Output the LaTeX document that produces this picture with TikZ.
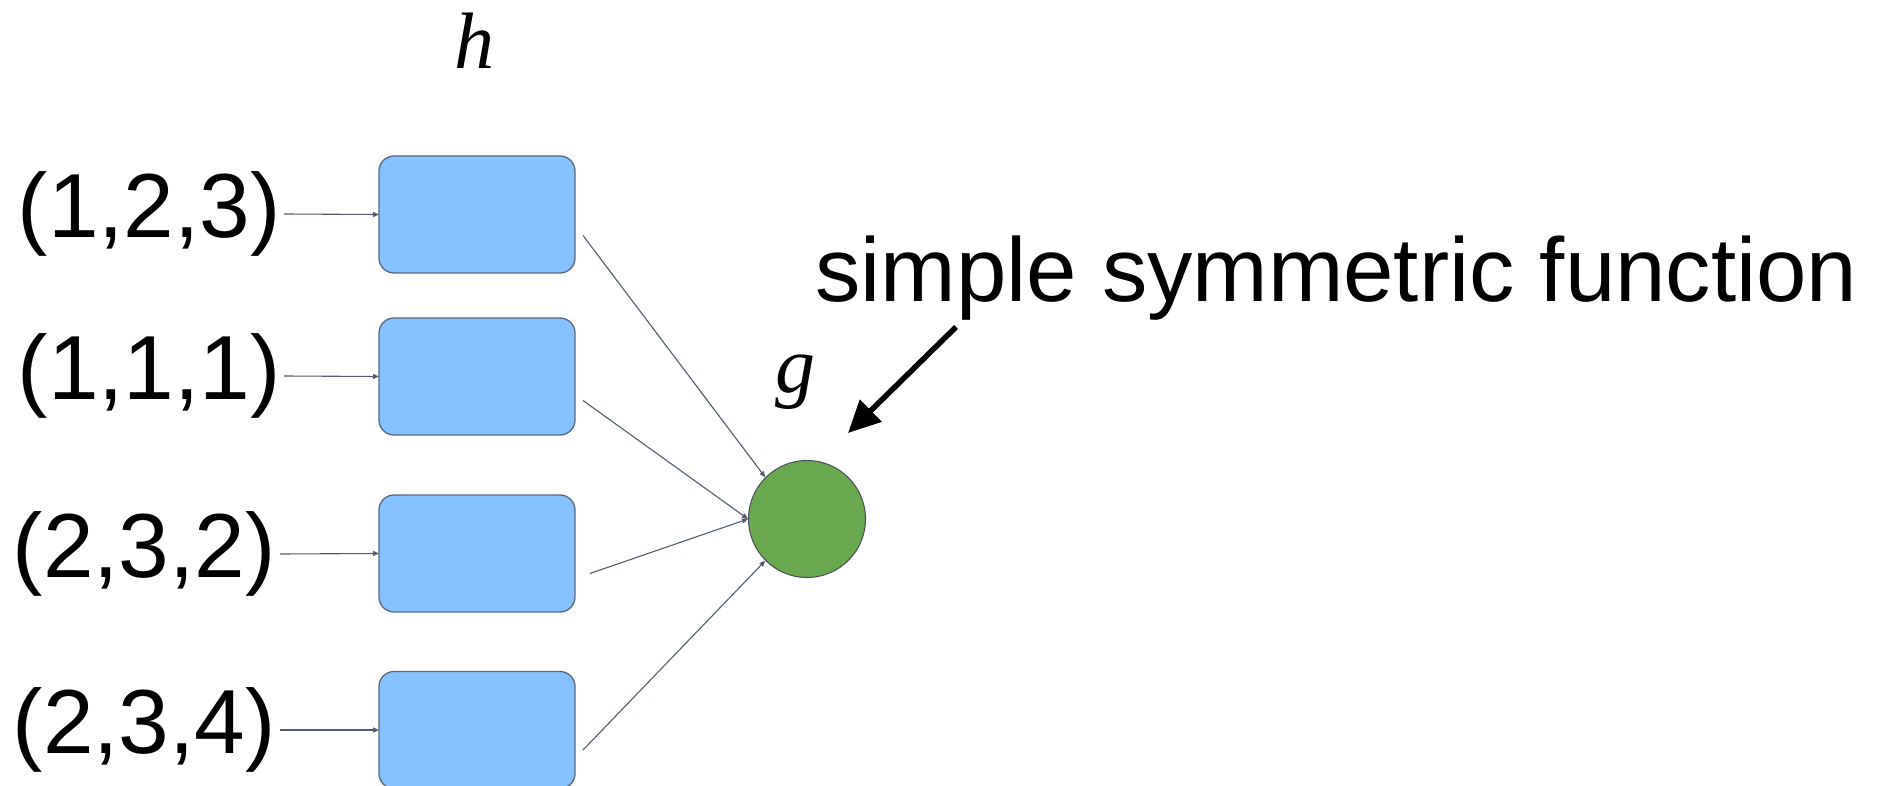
\documentclass[tikz,border=0pt]{standalone}
\usepackage{fontspec}
\setmainfont{Liberation Sans}
\newfontfamily\tmsfont{Liberation Serif}
\usetikzlibrary{arrows.meta,calc}
\definecolor{boxblue}{RGB}{133,194,255}
\definecolor{boxedge}{RGB}{90,104,125}
\definecolor{gfill}{RGB}{106,168,79}
\definecolor{gedge}{RGB}{70,80,90}
\definecolor{wire}{RGB}{80,92,112}
\begin{document}
\begin{tikzpicture}[x=1pt,y=-1pt,
  hbox/.style={draw=boxedge, line width=1.3pt, fill=boxblue, rounded corners=15pt,
    minimum width=196pt, minimum height=117pt, inner sep=0pt, outer sep=0pt},
  tuple/.style={font=\fontsize{91}{100}\selectfont, inner sep=0pt, anchor=east},
  mathlbl/.style={font=\fontsize{80}{90}\selectfont\tmsfont\itshape, inner sep=0pt, anchor=base},
  wirearrow/.style={draw=wire, line width=1.1pt, -{Triangle[length=6pt,width=5pt]}},
  bigarrow/.style={draw=black, line width=5.5pt, -{Triangle[length=32pt,width=30pt]}},
  gnode/.style={circle, minimum size=117pt, inner sep=0pt, fill=gfill, draw=gedge, line width=1pt}
]
\fill[white] (0,0) rectangle (1885,786);
\useasboundingbox (0,0) rectangle (1885,786);

% h label
\node[mathlbl] (hl) at (474,69) {h};

% boxes
\node[hbox] (b1) at (477,214.5) {};
\node[hbox] (b2) at (477,376.5) {};
\node[hbox] (b3) at (477,553.5) {};
\node[hbox] (b4) at (477,730) {};

% tuples
\node[tuple] (l1) at (281,214) {(1,2,3)};
\node[tuple] (l2) at (281,376) {(1,1,1)};
\node[tuple] (l3) at (276,554) {(2,3,2)};
\node[tuple] (l4) at (276,730) {(2,3,4)};

\draw[wirearrow] (l1.east -| 284,0) -- (b1.west);
\draw[wirearrow] (l2.east -| 284,0) -- (b2.west);
\draw[wirearrow] (l3.east -| 280,0) -- (b3.west);
\draw[wirearrow] (l4.east -| 280,0) -- (b4.west);

% g node
\node[gnode] (g) at (807,519) {};
\node[mathlbl] (gl) at (795,392) {g};

\coordinate (s1) at ($(b1.east)+(8,21)$);
\coordinate (s2) at ($(b2.east)+(8,24)$);
\coordinate (s3) at ($(b3.east)+(15,20)$);
\coordinate (s4) at ($(b4.east)+(8,20)$);

\draw[wirearrow] (s1) -- (g.north west);
\draw[wirearrow] (s2) -- (g.west);
\draw[wirearrow] (s3) -- (g.west);
\draw[wirearrow] (s4) -- (g.south west);

% annotation
\node[font=\fontsize{90.6}{100}\selectfont, inner sep=0pt, anchor=base west] (ssf) at (815,302) {simple symmetric function};
\coordinate (ts) at (956,327);
\coordinate (tt) at (848,433);
\draw[bigarrow] (ts) -- (tt);
\end{tikzpicture}
\end{document}
